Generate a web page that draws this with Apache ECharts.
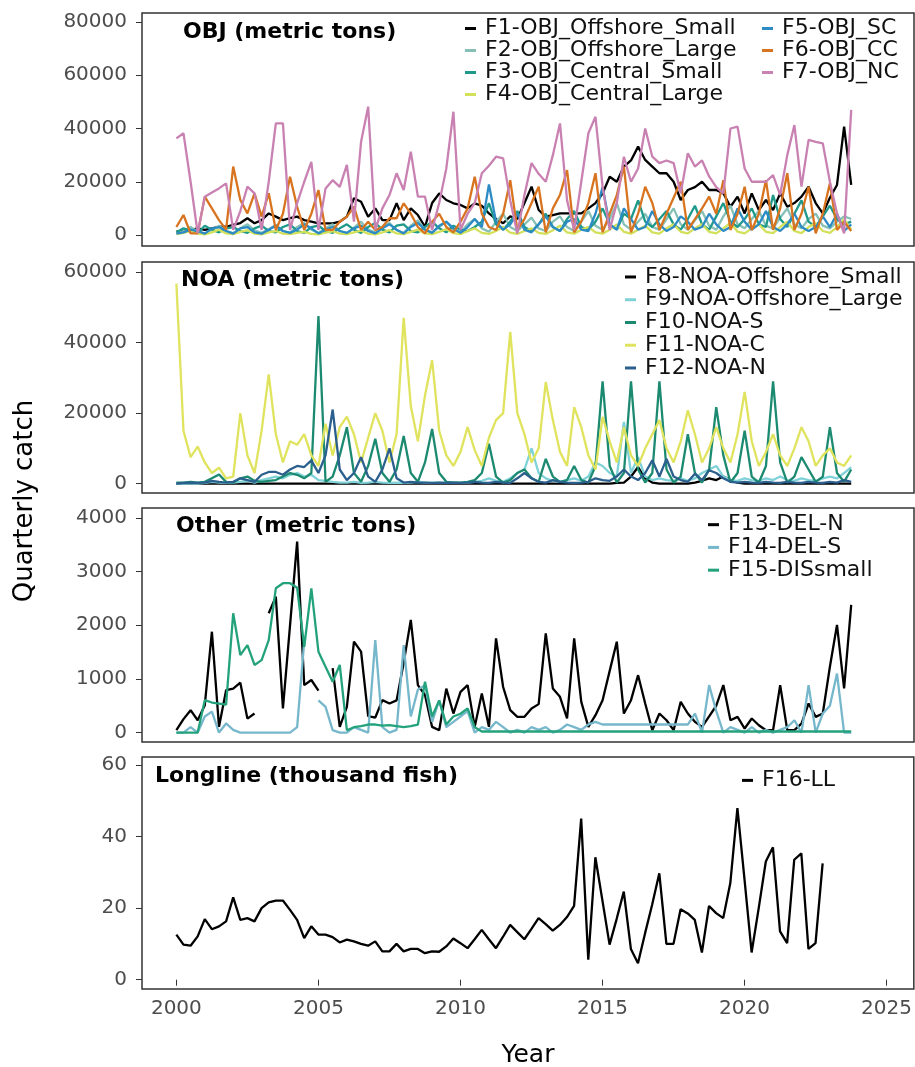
<!DOCTYPE html>
<html><head><meta charset="utf-8">
<script src="https://cdn.jsdelivr.net/npm/echarts@6/dist/echarts.min.js"></script>
<style>html,body{margin:0;padding:0;background:#fff}#c{width:915px;height:1067px}</style>
</head><body><div id="c"></div>
<script>
// quarterly time grid (x positions)
const firstYear = 2000;
const nQuarters = 96;
const quarters = Array.from({length: nQuarters}, (_, i) => firstYear + i / 4);

const xTicks = [2000, 2005, 2010, 2015, 2020, 2025];
const yTicksOBJ = [0, 20000, 40000, 60000, 80000];
const yTicksNOA = [0, 20000, 40000, 60000];
const yTicksOther = [0, 1000, 2000, 3000, 4000];
const yTicksLL = [0, 20, 40, 60];

// ---- OBJ (metric tons) ----
const F1 = [1250,1500,1900,2500,1900,2500,3100,3100, 3800,4500,6300,4400,5600,8100,6900,5600,
  6300,6900,5600,5000,4400,4400,4400,5000, 6900,13800,12500,6900,10000,5600,5600,11900,
  5600,10000,7500,3100,12000,15600,13150,11900, 11300,10000,11900,11000,8100,6000,4400,7000,
  6000,12000,18150,9400,6900,7500,8100,8100, 8100,8100,10000,12000,15600,21900,20000,25700,
  28000,33200,28200,25700,23200,23200,20000,13150, 16900,18000,20000,16900,16900,15650,10600,14400,
  8100,15650,9400,13150,9400,15650,10600,12000, 14400,18150,12000,8100,14000,18800,40700,18800];
const F2 = [800,1500,3000,1200,600,2000,3500,1500, 700,2500,4000,1800,800,2200,3800,1500,
  900,3000,4500,2000,800,2500,4000,1500, 700,2800,5000,2000,900,3000,4500,1800,
  800,3500,5500,2000,1000,3000,5000,2000, 900,4000,6000,2500,1200,5000,8000,3000,
  1500,4000,6500,2500,1500,5000,7000,3000, 1500,5000,9000,3500,2000,6000,12000,4000,
  2000,5000,8000,3000,2000,6000,10000,4000, 2000,5500,9000,3500,2000,7000,11000,4000,
  2500,6000,9000,3500,2500,6500,10000,4000, 2500,6000,8000,3500,2500,5000,7000,6000];
const F3 = [1000,2500,1500,800,3500,2000,1000,2500, 3000,1500,800,2500,3500,1500,1000,3000,
  4000,1500,800,3000,3500,1500,800,2500, 4000,2000,800,3000,4500,2000,1000,3500,
  4000,1500,1000,3000,5000,2500,1000,3500, 2000,1500,3000,5000,12000,4000,2000,5000,
  9000,3000,1500,4000,8000,3000,1500,6000, 9000,3000,2000,5000,10000,4000,2000,8000,
  6000,13000,5000,3000,6000,9000,4000,2000, 6000,11000,4000,2000,7000,12000,5000,3000,
  6000,10000,4000,3000,15000,6000,3000,8000, 13000,5000,3000,7000,11000,6000,4000,5000];
const F4 = [300,800,1500,500,200,1000,2000,600, 300,1200,1800,500,200,1000,1500,500,
  300,800,1200,400,200,900,1400,500, 300,1000,1600,500,200,1000,1800,600,
  300,1200,2000,600,300,1200,2200,700, 300,1500,2500,800,400,1500,3000,900,
  400,1500,2500,800,400,1800,3500,1000, 500,2000,3000,1000,500,2000,4000,1200,
  500,2000,3500,1000,500,2500,4000,1200, 600,2500,4000,1200,600,2500,4500,1300,
  600,2500,4000,1200,700,3000,5000,1500, 700,3000,4500,1500,800,3000,6000,2000];
const F5 = [500,1000,2000,1500,500,2500,3000,1500, 500,2500,3000,1000,500,2000,3500,1500,
  800,2000,4000,2500,600,2000,3000,1500, 800,2500,3500,1500,600,2500,4000,2000,
  600,3000,4500,2000,800,3500,5000,2500, 800,3000,6000,3000,19000,5000,2000,4000,
  8000,2000,1000,4000,7000,3000,1500,5000, 6000,2000,1500,8000,18000,4000,2000,10000,
  6000,2000,3000,9000,4000,1500,3000,7000, 5000,2000,3000,8000,4000,1500,3000,10000,
  5000,2000,4000,9000,3000,1500,4000,8000, 3000,1500,3000,7000,3000,8000,1500,4000];
const F6 = [3000,7500,600,600,14400,10000,5600,2000, 25700,13150,8100,15650,6900,15650,1900,8000,
  21900,10600,1900,8000,16900,1900,1900,5000, 6900,10600,1900,5000,1900,3000,6300,6300,
  11900,8000,3000,600,5000,8000,3000,1000, 5000,10000,21900,8000,3000,1900,8000,20600,
  1900,6000,12000,18150,1000,10000,15000,24400, 1000,5000,12000,23200,1000,8000,15000,25700,
  1000,8000,18150,12000,1900,8000,14000,20000, 1900,6000,10000,14400,8000,20600,1900,8000,
  18150,1900,8000,20600,1900,10000,23200,1900, 8000,18150,600,8000,19400,1900,5000,1500];
const F7 = [36300,38200,20000,600,14400,16000,17500,19400, 1900,9000,18150,15650,1900,20000,41900,41900,
  1900,12000,20000,27500,1900,17500,20600,18100, 26300,5000,35000,48200,2000,10000,15000,23200,
  16900,31300,14400,14400,1900,12000,25000,46300, 2000,8000,12000,23200,26000,29400,28800,13000,
  600,15000,27000,23000,20000,30000,41900,13000, 1900,20000,38200,44400,18150,1900,12000,29400,
  20000,25000,40000,29400,27000,28000,27000,15650, 30700,25700,28000,22000,18000,15650,40000,40700,
  25000,20000,20000,20000,22500,15000,30000,41300, 18150,35700,35000,34400,20000,8100,600,47000];

// ---- NOA (metric tons) ----
const F8 = [0,0,0,0,0,0,0,0, 0,0,0,0,0,0,0,0, 0,0,0,0,0,0,0,0, 0,0,0,0,0,0,0,0,
  0,0,0,0,0,0,0,0, 0,0,0,0,0,0,0,0, 0,0,0,0,0,0,0,0, 0,0,0,0,0,0,200,300,
  2000,4700,1500,300,0,0,0,0, 0,300,800,1500,1000,2000,1000,300,
  0,0,0,0,0,0,0,0, 0,0,0,0,0,0,0,0];
const F9 = [0,0,0,0,200,500,300,200, 300,500,800,300,1000,1500,2000,1500,
  2500,3000,2000,2500,1000,800,500,300, 300,500,200,300,500,300,200,300,
  200,300,500,300,200,300,200,300, 200,300,500,800,1500,800,500,1500,
  3000,4000,10000,3000,1500,800,500,1000, 1500,800,2000,6000,5000,3000,2000,17500,
  3000,7500,2000,1000,1500,1000,800,1500, 800,1500,3000,4000,5000,2000,1000,800,
  1500,1000,800,1500,1000,2000,1000,800, 1500,1000,800,1500,2000,1500,3000,4700];
const F10 = [300,300,500,300,500,1500,2600,500, 300,1500,2000,800,500,800,1000,2000,
  3000,2500,1500,3000,47500,500,2000,8000, 16000,3000,500,5000,12700,3000,500,4000,
  13500,3000,500,6000,15500,3000,500,300, 300,500,1000,3000,11300,2000,300,1000,
  3000,4000,1500,500,7000,2000,500,1000, 5000,1000,300,5000,29000,5000,300,3000,
  29000,4000,300,3000,29000,4000,300,2000, 14000,3000,300,4000,21700,8000,300,3000,
  15000,2000,300,5000,29000,6000,300,2000, 7500,4000,500,2000,16000,3000,500,4000];
const F11 = [56700,15000,7500,10500,6000,3000,4500,1500, 2000,20000,8000,3000,15000,31000,14000,6000,
  12000,11000,14000,8000,5000,17000,8000,16000, 19000,14000,6000,13000,20000,15000,6000,14000,
  47000,22000,12000,25000,35000,15000,8000,5000, 9000,16000,9500,5000,13000,18000,20000,43000,
  20000,14000,6000,10000,28800,18000,9000,5000, 21700,16000,8000,4000,18900,12000,6000,16000,
  8000,5000,10000,14000,18000,10000,6000,12000, 20800,14000,6000,10000,16000,10000,6000,14000,
  26000,12000,5000,9000,14000,8000,5000,10000, 16000,12000,5000,8000,10000,6000,5000,8000];
const F12 = [0,200,300,200,300,800,500,300, 500,1500,1000,500,2500,3300,3300,2500,
  4000,5000,4700,6600,3000,8000,21000,4000, 1000,3000,7500,2000,500,4000,10000,1500,
  300,500,300,300,200,300,200,300, 200,300,500,300,200,500,300,200,
  1500,3000,1500,500,300,1000,500,300, 200,300,500,1500,1000,800,2000,4000,
  2000,1000,3000,6600,2000,7000,2000,1000, 500,2800,1000,3800,3000,1500,500,300,
  500,300,200,500,300,200,500,300, 200,500,300,200,500,300,1000,500];

// ---- Other (metric tons) ----
const F13 = [44,250,417,230,510,1880,106,790, 820,930,260,355,null,2225,2535,450,
  2000,3560,885,980,780,null,1200,106, 480,1695,1508,305,280,604,542,600,
  1300,2100,885,700,106,44,820,355, 760,885,106,730,106,1757,850,417,
  293,293,450,530,1850,820,667,262, 1757,573,106,324,604,1150,1695,355,
  604,1070,542,44,355,230,44,573, 355,200,106,300,500,885,230,293,
  75,262,137,44,44,885,44,44, 168,542,293,355,1227,2006,822,2380];
const F14 = [0,0,100,0,300,390,0,170, 50,0,0,0,0,0,0,0,
  0,100,1700,null,600,480,44,0, 0,100,50,0,1725,100,0,50,
  1630,300,800,885,200,600,100,200, 300,400,0,100,50,200,100,0,
  50,0,100,50,100,0,50,150, 100,50,150,200,150,150,150,150,
  150,150,150,150,150,150,150,150, 150,355,0,885,400,0,100,50,
  0,100,0,50,0,50,100,230, 0,885,0,355,500,1100,0,0];
const F15 = [0,0,0,0,604,560,540,520, 2225,1445,1630,1260,1350,1725,2690,2785,
  2785,2700,1600,2690,1508,1227,947,1260, 44,100,120,150,150,130,140,120,
  100,120,150,950,300,600,150,300, 350,450,100,20,20,20,20,20,
  20,20,20,20,20,20,20,20, 20,20,20,20,20,20,20,20,
  20,20,20,20,20,20,20,20, 20,20,20,20,20,20,20,20,
  20,20,20,20,20,20,20,20, 20,20,20,20,20,20,20,20];

// ---- Longline (thousand fish) ----
const F16 = [12.6,9.8,9.5,12.1,16.9,14.1,14.9,16.3,23,16.7, 17.2,16.3,20,21.6,22.1,22.1,19.5,16.7,11.6,14.9,
  12.6,12.6,11.9,10.4,11.2,10.7,10,9.5,10.7,7.9, 7.9,10,7.9,8.6,8.6,7.4,7.9,7.8,9.3,11.5,
  10.2,8.8,11.3,13.9,11.3,8.8,12,15.3,13.3,11.3, 14.2,17.2,15.5,13.7,15.3,17.5,20.6,45,5.6,34.2,
  22,9.8,17,24.6,8.6,4.6,13,21,29.7,10, 10,19.7,18.5,16.7,7.6,20.6,18.6,17.2,27,47.9,
  28,7.6,20,33,37,13.5,10.2,33.5,35.3,8.6, 10.2,32.5];

const panels = [
  {title: 'OBJ (metric tons)', ymin: -4130, ymax: 83380, ticks: yTicksOBJ,
   series: [['F1-OBJ_Offshore_Small', F1, '#000000'], ['F2-OBJ_Offshore_Large', F2, '#86c0b6'],
            ['F3-OBJ_Central_Small', F3, '#1f9a8a'], ['F4-OBJ_Central_Large', F4, '#d3e05a'],
            ['F5-OBJ_SC', F5, '#2c8ac4'], ['F6-OBJ_CC', F6, '#d8741f'], ['F7-OBJ_NC', F7, '#c981b2']]},
  {title: 'NOA (metric tons)', ymin: -2665, ymax: 62835, ticks: yTicksNOA,
   series: [['F8-NOA-Offshore_Small', F8, '#000000'], ['F9-NOA-Offshore_Large', F9, '#7fd2d8'],
            ['F10-NOA-S', F10, '#1c8a70'], ['F11-NOA-C', F11, '#e0e35d'], ['F12-NOA-N', F12, '#2b5f8e']]},
  {title: 'Other (metric tons)', ymin: -176, ymax: 4187, ticks: yTicksOther,
   series: [['F13-DEL-N', F13, '#000000'], ['F14-DEL-S', F14, '#76b7cc'], ['F15-DISsmall', F15, '#24a27c']]},
  {title: 'Longline (thousand fish)', ymin: -2.6, ymax: 62.2, ticks: yTicksLL,
   series: [['F16-LL', F16, '#000000']]}
];

const gridPos = [{top: 13, height: 233}, {top: 262, height: 231}, {top: 508, height: 234}, {top: 757, height: 232}];
const titlePos = [{left: 183, top: 21}, {left: 181, top: 269}, {left: 176, top: 515}, {left: 155, top: 765}];
const legendPos = [
  [{left: 465, top: 17.5, names: [0, 1, 2, 3]}, {left: 762, top: 17.5, names: [4, 5, 6]}],
  [{left: 625, top: 265.6, names: [0, 1, 2, 3, 4]}],
  [{left: 708, top: 513.3, names: [0, 1, 2]}],
  [{left: 742, top: 769, names: [0]}]
];
const FONT = 'DejaVu Sans';

const grid = [], xAxis = [], yAxis = [], series = [], legend = [], title = [];
panels.forEach((p, k) => {
  grid.push({left: 142, right: 1, top: gridPos[k].top, height: gridPos[k].height, show: true,
    borderColor: '#333', borderWidth: 1.5, backgroundColor: '#fff'});
  const bottom = k === panels.length - 1;
  xAxis.push({type: 'value', gridIndex: k, min: 1998.79, max: 2025.96,
    axisLine: {show: false}, splitLine: {show: false},
    axisTick: {show: bottom, customValues: xTicks, length: 6, lineStyle: {color: '#333', width: 1}},
    axisLabel: {show: bottom, customValues: xTicks, color: '#4d4d4d', fontSize: 20, fontFamily: FONT, margin: 10,
      formatter: v => String(v)}});
  yAxis.push({type: 'value', gridIndex: k, min: p.ymin, max: p.ymax,
    axisLine: {show: false}, splitLine: {show: false},
    axisTick: {show: true, customValues: p.ticks, length: 6, lineStyle: {color: '#333', width: 1}},
    axisLabel: {customValues: p.ticks, color: '#4d4d4d', fontSize: 20, fontFamily: FONT, margin: 15,
      formatter: v => String(v)}});
  p.series.forEach(([name, vals, color]) => {
    series.push({name, type: 'line', xAxisIndex: k, yAxisIndex: k, color,
      showSymbol: false, symbol: 'none', connectNulls: false, animation: false,
      lineStyle: {width: 2.3, color},
      data: vals.map((v, i) => [quarters[i], v])});
  });
  legendPos[k].forEach(L => {
    legend.push({orient: 'vertical', left: L.left, top: L.top, padding: 0, itemGap: 0,
      itemWidth: 11, itemHeight: 3, icon: 'rect', selectedMode: false,
      data: L.names.map(j => p.series[j][0]),
      textStyle: {fontSize: 22, lineHeight: k === 0 ? 22 : 22.75, fontFamily: FONT, color: '#111', padding: [0, 0, 0, 4]}});
  });
  title.push({text: p.title, left: titlePos[k].left, top: titlePos[k].top, padding: 0,
    textStyle: {fontFamily: FONT, fontWeight: 'bold', fontSize: 22, color: '#000'}});
});

const chart = echarts.init(document.getElementById('c'), null, {renderer: 'canvas'});
chart.setOption({
  backgroundColor: '#fff', animation: false,
  title, grid, xAxis, yAxis, series, legend,
  graphic: [
    {type: 'text', x: 528, y: 1055, style: {text: 'Year', align: 'center', verticalAlign: 'middle',
      font: '25px "DejaVu Sans"', fill: '#000'}},
    {type: 'text', x: 25, y: 501, rotation: Math.PI / 2, style: {text: 'Quarterly catch', align: 'center',
      verticalAlign: 'middle', font: '26px "DejaVu Sans"', fill: '#000'}}
  ]
});
</script></body></html>
